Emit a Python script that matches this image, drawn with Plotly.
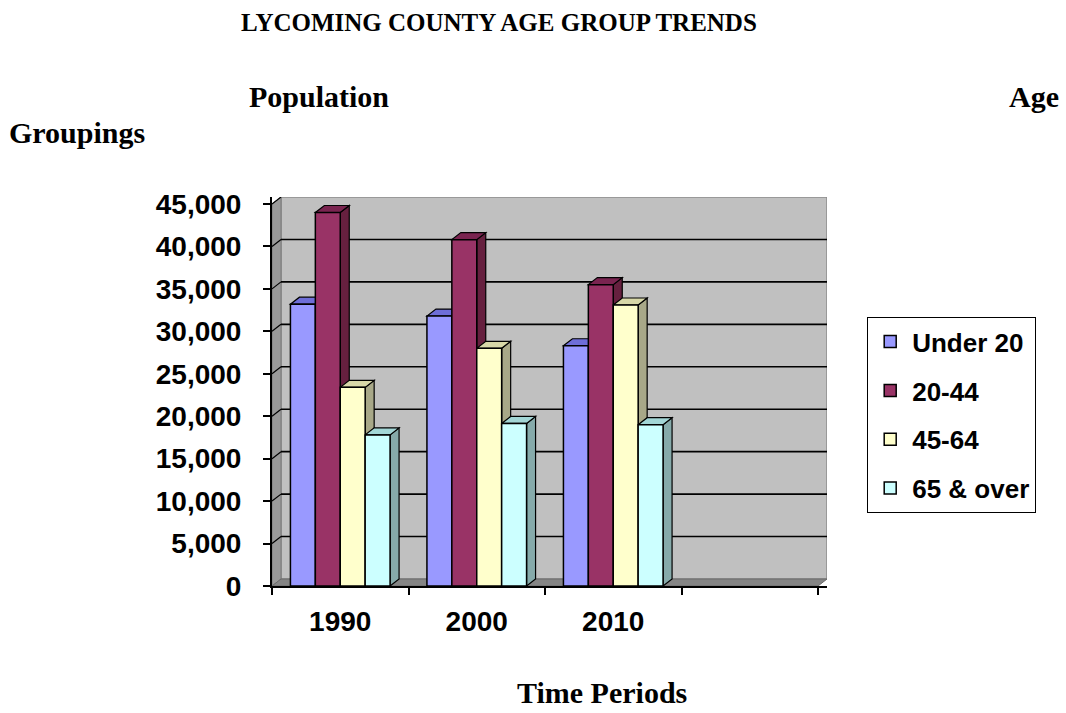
import plotly.graph_objects as go

# ---------------- data ----------------
years = ["1990", "2000", "2010"]
groups = ["Under 20", "20-44", "45-64", "65 & over"]
under_20 = [33200, 31800, 28300]
age_20_44 = [44000, 40800, 35500]
age_45_64 = [23400, 28000, 33100]
age_65_over = [17800, 19150, 19000]
series = [under_20, age_20_44, age_45_64, age_65_over]
y_ticks = [0, 5000, 10000, 15000, 20000, 25000, 30000, 35000, 40000, 45000]

# ---------------- styles ----------------
front_colors = ["#9999FF", "#993366", "#FFFFCC", "#CCFFFF"]
top_colors = ["#6E6ED8", "#7A2450", "#D8D8A8", "#A3D6D6"]
side_colors = ["#6262B8", "#66203F", "#A8A888", "#86AAAA"]
SANS = "Liberation Sans, Arial, sans-serif"
SERIF = "Liberation Serif, Times New Roman, serif"

W, H = 1066, 713
L, R, T, B = 272, 239, 197, 127
PW = W - L - R
PH = H - T - B
DX, DY = 9, 7                     # 3-D depth in pixels
n_cat = len(years) + 1            # one empty slot at the right
ymax = y_ticks[-1]
ux = n_cat / (PW - DX)            # data units per pixel (x)
uy = ymax / (PH - DY)             # data units per pixel (y)
dx, dy = DX * ux, DY * uy
xlo, xhi = -0.5, n_cat - 0.5

gap = 0.27
bw = (1 - gap) / len(groups)
xs = list(range(len(years)))

fig = go.Figure()

shapes = []
# back wall
shapes.append(dict(type="rect", xref="x", yref="y", layer="below",
                   x0=xlo + dx, x1=xhi + dx, y0=dy, y1=ymax + dy,
                   fillcolor="#C0C0C0", line=dict(color="#8C8C8C", width=1.5)))
# left wall
shapes.append(dict(type="path", xref="x", yref="y", layer="below",
                   path=f"M{xlo},0 L{xlo},{ymax} L{xlo+dx},{ymax+dy} L{xlo+dx},{dy} Z",
                   fillcolor="#9A9A9A", line=dict(color="#7A7A7A", width=1)))
# floor
shapes.append(dict(type="path", xref="x", yref="y", layer="below",
                   path=f"M{xlo},0 L{xlo+dx},{dy} L{xhi+dx},{dy} L{xhi},0 Z",
                   fillcolor="#858585", line=dict(color="#6A6A6A", width=1)))
# gridlines on the back wall and on the left wall
for v in y_ticks[1:-1]:
    shapes.append(dict(type="line", xref="x", yref="y", layer="below",
                       x0=xlo + dx, x1=xhi + dx, y0=v + dy, y1=v + dy,
                       line=dict(color="black", width=1.6)))
for v in y_ticks[1:]:
    shapes.append(dict(type="line", xref="x", yref="y", layer="below",
                       x0=xlo, x1=xlo + dx, y0=v, y1=v + dy,
                       line=dict(color="black", width=1.2)))

# bars (front faces) + 3-D faces
for j, (name, vals) in enumerate(zip(groups, series)):
    off = -(1 - gap) / 2 + j * bw
    fig.add_trace(go.Bar(
        x=xs, y=vals, name=name, width=bw, offset=off,
        legendgroup=name,
        marker=dict(color=front_colors[j], line=dict(color="black", width=1.5)),
    ))
    for xi, v in zip(xs, vals):
        xl = xi + off
        xr = xl + bw
        shapes.append(dict(type="path", xref="x", yref="y", layer="below",
                           path=f"M{xr},0 L{xr},{v} L{xr+dx},{v+dy} L{xr+dx},{dy} Z",
                           fillcolor=side_colors[j], line=dict(color="black", width=1.2)))
        shapes.append(dict(type="path", xref="x", yref="y", layer="below",
                           path=f"M{xl},{v} L{xr},{v} L{xr+dx},{v+dy} L{xl+dx},{v+dy} Z",
                           fillcolor=top_colors[j], line=dict(color="black", width=1.2)))


def px_x(p):
    return (p - L) / PW


def px_y(p):
    return (H - B - p) / PH


annotations = [
    dict(text="LYCOMING COUNTY AGE GROUP TRENDS", x=px_x(499), y=px_y(22),
         xanchor="center", yanchor="middle",
         font=dict(family=SERIF, size=25, color="black", weight="bold")),
    dict(text="Population", x=px_x(247), y=px_y(96), xanchor="left", yanchor="middle",
         font=dict(family=SERIF, size=30, color="black", weight="bold")),
    dict(text="Age", x=px_x(1061), y=px_y(96), xanchor="right", yanchor="middle",
         font=dict(family=SERIF, size=30, color="black", weight="bold")),
    dict(text="Groupings", x=px_x(7), y=px_y(132), xanchor="left", yanchor="middle",
         font=dict(family=SERIF, size=30, color="black", weight="bold")),
    dict(text="Time Periods", x=px_x(602), y=px_y(692), xanchor="center", yanchor="middle",
         font=dict(family=SERIF, size=30, color="black", weight="bold")),
]
for a in annotations:
    a.update(xref="paper", yref="paper", showarrow=False)

fig.update_layout(
    width=W, height=H,
    margin=dict(l=L, r=R, t=T, b=B, pad=0),
    paper_bgcolor="white", plot_bgcolor="white",
    barmode="overlay",
    shapes=shapes,
    annotations=annotations,
    showlegend=True,
    legend=dict(
        xref="container", yref="container",
        x=867 / W, y=1 - 317 / H, xanchor="left", yanchor="top",
        bordercolor="black", borderwidth=1.2, bgcolor="white",
        font=dict(family=SANS, size=26, color="black", weight="bold"),
        traceorder="grouped", tracegroupgap=12,
        itemwidth=34,
    ),
    xaxis=dict(
        range=[xlo, xhi + dx],
        tickmode="array", tickvals=xs, ticktext=years,
        ticks="", showgrid=False, zeroline=False,
        showline=True, linecolor="black", linewidth=2,
        tickfont=dict(family=SANS, size=28, color="black", weight="bold"),
        ticklabelstandoff=9,
        minor=dict(tickmode="array", tickvals=[xlo + k for k in range(n_cat + 1)],
                   ticks="outside", ticklen=7, tickwidth=1.5, tickcolor="black"),
    ),
    yaxis=dict(
        range=[0, ymax + dy],
        tickmode="array", tickvals=y_ticks, tickformat=",",
        ticks="outside", ticklen=7, tickwidth=1.5, tickcolor="black",
        showgrid=False, zeroline=False,
        showline=True, linecolor="black", linewidth=2,
        tickfont=dict(family=SANS, size=28, color="black", weight="bold"),
        ticklabelstandoff=16,
    ),
)

fig.write_html(
    "out.html",
    config={"displayModeBar": False},
    post_script="document.body.style.margin='0';document.body.style.overflow='hidden';",
)
